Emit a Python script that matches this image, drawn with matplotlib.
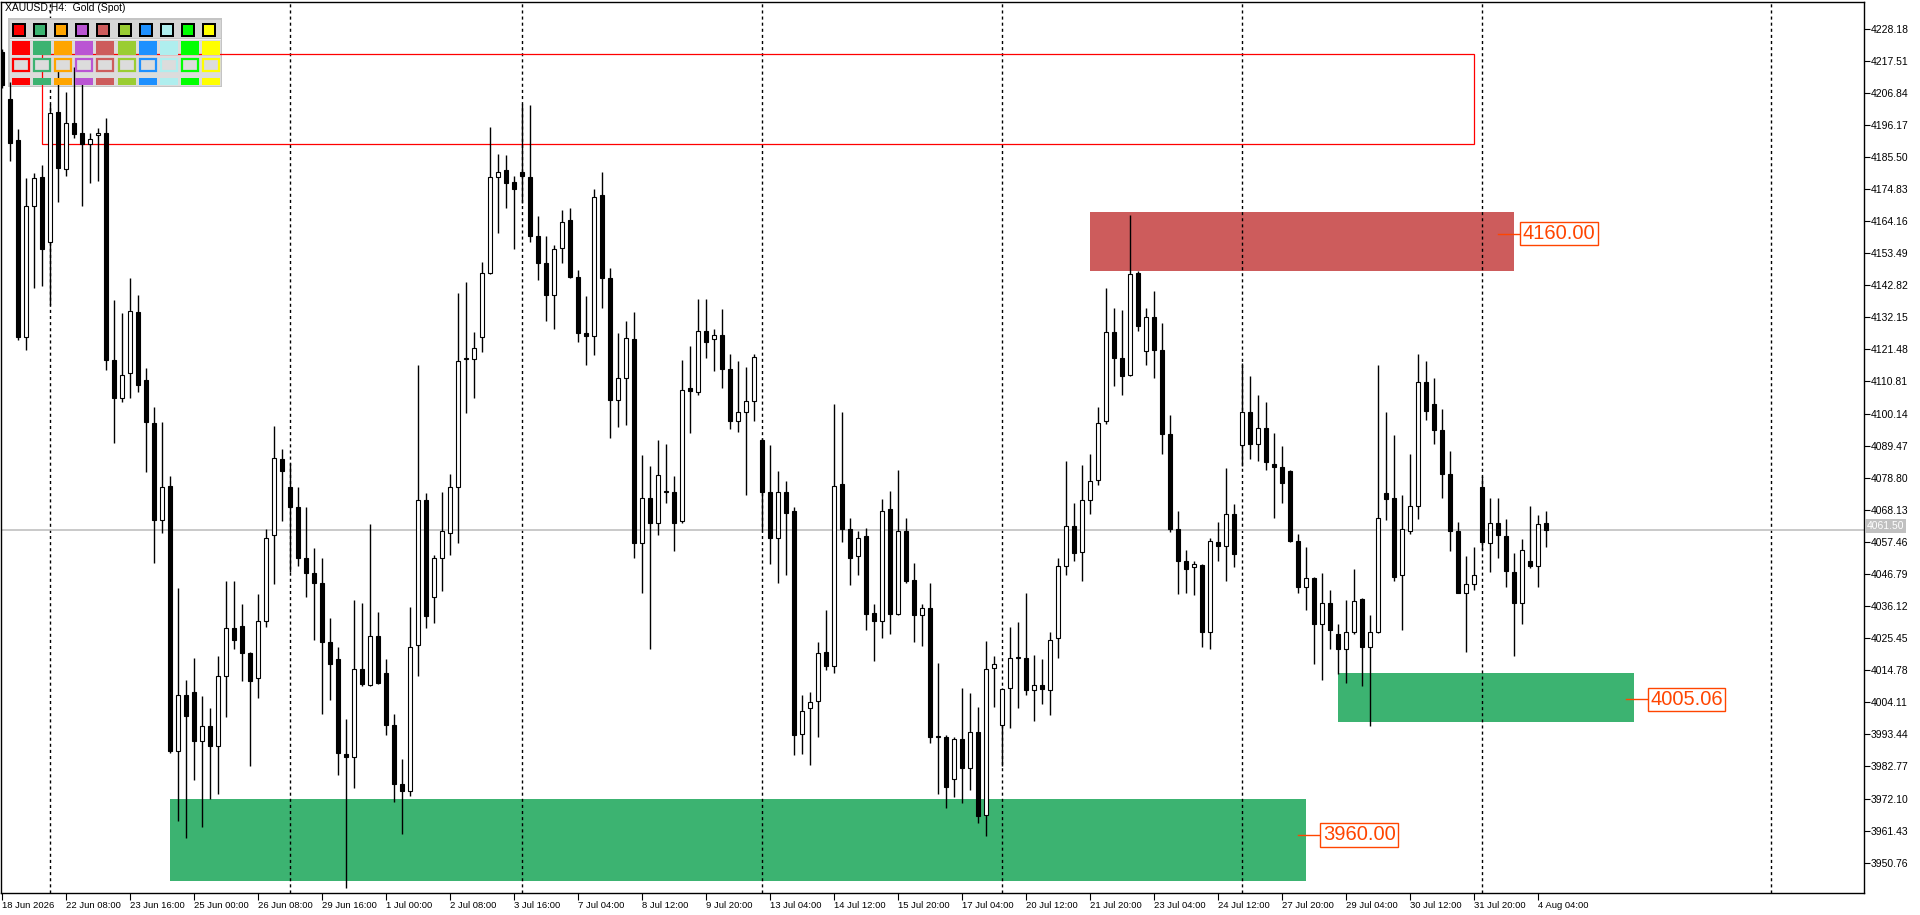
import numpy as np
import matplotlib
matplotlib.use('Agg')
from matplotlib import pyplot as plt
from matplotlib.patches import Rectangle
from matplotlib.transforms import Affine2D, blended_transform_factory

plt.rcParams['font.family'] = ['Liberation Sans', 'DejaVu Sans']

W, H = 1920, 915

# H4 candles, bar index 0 .. 193
opens = [4220.3, 4204.7, 4191.0, 4125.7, 4169.0, 4178.9, 4157.1, 4200.5, 4181.5, 4196.9,
         4193.4, 4189.9, 4192.8, 4193.4, 4118.0, 4105.3, 4113.6, 4133.8, 4111.2, 4097.1,
         4064.8, 4076.2, 3988.0, 4006.7, 4007.6, 3991.1, 3996.2, 3989.6, 4012.7, 4028.7,
         4029.6, 4020.4, 4012.2, 4031.1, 4059.8, 4085.0, 4075.8, 4069.0, 4052.1, 4047.0,
         4043.7, 4024.1, 4018.6, 3987.0, 3985.9, 4015.3, 4009.8, 4026.3, 4014.0, 3996.6,
         3976.8, 3974.6, 4023.2, 4071.4, 4039.3, 4052.0, 4060.4, 4075.8, 4118.2, 4118.2,
         4125.5, 4147.0, 4178.7, 4181.1, 4177.1, 4180.4, 4178.9, 4159.3, 4150.3, 4139.6,
         4155.2, 4164.6, 4145.5, 4127.0, 4125.9, 4172.7, 4145.1, 4104.8, 4111.8, 4125.0,
         4057.1, 4072.1, 4063.9, 4074.2, 4074.2, 4064.4, 4108.5, 4107.4, 4127.7, 4125.0,
         4126.2, 4114.9, 4097.5, 4100.8, 4104.2, 4091.4, 4074.0, 4058.6, 4074.0, 4067.7,
         3993.5, 4002.1, 4004.5, 4020.8, 4016.2, 4076.7, 4061.7, 4052.9, 4059.3, 4033.8,
         4031.1, 4068.5, 4033.6, 4061.1, 4044.8, 4033.3, 4035.5, 3992.5, 3992.5, 3978.6,
         3992.0, 3982.3, 3994.4, 3966.7, 4015.5, 3996.6, 4008.9, 4018.9, 4018.9, 4008.3,
         4009.9, 4008.3, 4025.4, 4049.4, 4062.6, 4054.2, 4071.4, 4078.2, 4097.8, 4127.2,
         4118.5, 4113.0, 4147.0, 4120.9, 4132.3, 4121.3, 4093.2, 4061.7, 4051.2, 4049.2,
         4049.8, 4027.4, 4057.5, 4056.2, 4066.8, 4089.7, 4100.8, 4090.1, 4095.2, 4083.5,
         4082.2, 4080.9, 4057.6, 4042.4, 4045.5, 4030.0, 4037.3, 4026.7, 4021.9, 4027.4,
         4038.6, 4022.6, 4027.4, 4073.6, 4072.1, 4046.5, 4061.1, 4069.4, 4110.7, 4103.3,
         4094.7, 4080.0, 4061.1, 4040.6, 4043.3, 4075.8, 4057.1, 4063.9, 4059.5, 4047.6,
         4037.3, 4051.2, 4049.4, 4063.9]
highs = [4221.5, 4210.3, 4194.7, 4178.5, 4180.0, 4182.7, 4203.0, 4216.0, 4207.1, 4215.3,
         4209.7, 4193.4, 4195.0, 4198.3, 4137.8, 4133.6, 4145.1, 4139.6, 4115.2, 4102.4,
         4097.3, 4079.5, 4042.1, 4011.6, 4018.9, 4006.1, 4002.1, 4019.5, 4044.3, 4044.6,
         4036.9, 4021.0, 4040.2, 4061.7, 4096.0, 4088.3, 4083.7, 4075.8, 4069.0, 4055.3,
         4052.0, 4032.0, 4022.6, 3998.4, 4038.2, 4037.3, 4063.5, 4034.2, 4018.6, 4000.2,
         3985.2, 4035.8, 4116.2, 4073.6, 4053.1, 4074.2, 4080.0, 4140.2, 4143.9, 4127.3,
         4150.6, 4195.4, 4186.4, 4186.0, 4179.3, 4203.1, 4202.7, 4166.0, 4159.3, 4156.1,
         4167.7, 4168.4, 4147.9, 4139.1, 4174.9, 4180.5, 4148.4, 4126.8, 4131.0, 4134.0,
         4086.4, 4082.8, 4091.4, 4090.1, 4079.5, 4118.0, 4122.6, 4138.2, 4138.2, 4128.3,
         4134.9, 4120.0, 4117.6, 4115.6, 4120.0, 4092.0, 4089.7, 4080.9, 4077.6, 4069.0,
         4006.7, 4007.6, 4024.1, 4034.7, 4103.3, 4100.8, 4065.4, 4061.1, 4062.1, 4036.9,
         4071.8, 4074.3, 4081.3, 4065.4, 4050.3, 4036.9, 4043.7, 4017.1, 3993.3, 3992.5,
         4009.0, 4007.2, 4002.4, 4024.5, 4019.5, 4009.0, 4029.0, 4030.9, 4040.6, 4019.9,
         4018.4, 4027.4, 4052.0, 4084.2, 4070.3, 4083.1, 4086.8, 4102.4, 4141.8, 4135.4,
         4134.5, 4166.2, 4147.5, 4135.1, 4140.9, 4130.1, 4099.7, 4067.6, 4054.9, 4051.0,
         4050.1, 4058.9, 4064.1, 4081.9, 4069.9, 4117.1, 4112.7, 4106.3, 4103.9, 4093.8,
         4089.2, 4081.5, 4060.2, 4055.6, 4045.7, 4047.0, 4041.5, 4030.0, 4038.2, 4048.3,
         4038.8, 4033.3, 4116.3, 4100.6, 4092.9, 4073.1, 4086.8, 4120.0, 4117.6, 4111.8,
         4101.5, 4087.7, 4064.1, 4052.9, 4055.6, 4079.5, 4072.1, 4072.1, 4065.0, 4053.8,
         4058.4, 4069.4, 4066.3, 4067.7]
lows = [4208.5, 4184.0, 4124.6, 4121.3, 4141.8, 4142.4, 4136.3, 4170.5, 4179.1, 4191.9,
        4169.3, 4176.7, 4177.6, 4114.5, 4090.5, 4103.9, 4105.2, 4107.2, 4080.6, 4050.3,
        4060.4, 3987.4, 3964.5, 3959.0, 3978.2, 3962.6, 3971.8, 3973.6, 3999.3, 4021.9,
        4011.2, 3982.8, 4005.7, 4029.2, 4043.3, 4064.4, 4047.6, 4049.4, 4039.3, 4025.0,
        4000.2, 4004.8, 3980.1, 3942.5, 3975.5, 4009.4, 4009.4, 4010.3, 3993.3, 3970.9,
        3960.3, 3973.1, 4012.7, 4028.7, 4030.5, 4041.1, 4053.1, 4057.1, 4100.2, 4105.3,
        4120.7, 4146.4, 4160.2, 4168.4, 4154.9, 4170.3, 4157.1, 4144.6, 4131.0, 4128.1,
        4150.1, 4145.1, 4124.0, 4116.3, 4119.5, 4135.4, 4092.0, 4095.6, 4096.2, 4052.0,
        4040.6, 4021.9, 4059.8, 4070.3, 4054.3, 4063.9, 4093.8, 4106.3, 4118.5, 4114.3,
        4108.5, 4095.1, 4094.1, 4073.2, 4097.5, 4061.1, 4050.1, 4043.7, 4046.5, 3986.5,
        3986.8, 3983.4, 3992.5, 4014.9, 4014.0, 4057.5, 4043.0, 4046.6, 4028.1, 4017.7,
        4025.6, 4026.8, 4033.3, 4043.9, 4024.1, 4022.8, 3990.5, 3973.6, 3969.1, 3972.7,
        3970.5, 3974.9, 3964.1, 3959.5, 4002.4, 3982.8, 3995.7, 4002.1, 4006.7, 3998.0,
        4003.5, 3999.9, 4018.9, 4046.5, 4051.0, 4044.3, 4066.6, 4076.4, 4096.5, 4109.4,
        4106.3, 4112.5, 4127.7, 4116.2, 4111.8, 4086.8, 4060.8, 4040.0, 4040.6, 4039.7,
        4022.6, 4021.7, 4051.2, 4044.6, 4049.2, 4082.8, 4085.0, 4084.2, 4081.5, 4065.4,
        4070.3, 4057.5, 4040.6, 4034.7, 4016.7, 4011.6, 4021.7, 4013.4, 4010.7, 4026.8,
        4009.4, 3996.2, 4027.3, 4064.8, 4044.3, 4028.3, 4060.2, 4065.0, 4098.0, 4090.1,
        4072.1, 4054.3, 4040.4, 4021.0, 4041.5, 4054.9, 4047.4, 4052.1, 4042.4, 4019.5,
        4030.0, 4048.8, 4042.4, 4055.8]
closes = [4209.5, 4190.1, 4125.5, 4169.0, 4178.5, 4155.0, 4200.2, 4181.8, 4196.9, 4193.2,
          4189.7, 4191.4, 4193.6, 4118.0, 4105.3, 4113.0, 4134.1, 4109.7, 4097.3, 4064.8,
          4075.8, 3987.8, 4006.7, 3999.7, 3991.4, 3996.2, 3989.6, 4012.7, 4028.7, 4025.0,
          4020.4, 4011.2, 4031.1, 4058.9, 4085.2, 4080.9, 4069.0, 4052.1, 4047.0, 4043.7,
          4024.1, 4016.7, 3987.4, 3985.9, 4015.3, 4010.3, 4026.3, 4010.7, 3996.6, 3976.8,
          3974.6, 4022.6, 4071.4, 4032.9, 4052.1, 4061.1, 4075.8, 4117.6, 4118.2, 4121.8,
          4147.0, 4178.9, 4180.5, 4176.7, 4174.9, 4179.3, 4159.1, 4150.3, 4139.6, 4155.0,
          4164.0, 4145.7, 4126.8, 4125.9, 4172.1, 4145.1, 4104.8, 4111.8, 4125.3, 4057.1,
          4072.1, 4063.9, 4079.8, 4074.2, 4063.9, 4108.1, 4107.5, 4127.7, 4124.0, 4126.2,
          4114.9, 4097.5, 4100.8, 4104.4, 4118.9, 4074.0, 4058.6, 4074.2, 4067.2, 3993.3,
          4001.2, 4004.3, 4020.4, 4016.2, 4076.0, 4061.7, 4052.0, 4058.6, 4033.6, 4031.1,
          4067.6, 4033.6, 4061.1, 4044.6, 4033.3, 4035.5, 3992.5, 3992.5, 3975.8, 3992.0,
          3982.3, 3994.4, 3966.3, 4015.3, 4016.7, 4008.5, 4018.9, 4018.9, 4008.3, 4009.9,
          4008.5, 4025.0, 4049.4, 4062.6, 4053.8, 4071.4, 4077.6, 4097.1, 4127.2, 4118.5,
          4112.5, 4146.6, 4129.2, 4132.3, 4121.3, 4093.2, 4061.7, 4051.2, 4048.3, 4050.1,
          4027.4, 4057.6, 4056.0, 4066.8, 4053.4, 4100.8, 4090.1, 4095.2, 4084.1, 4082.4,
          4076.9, 4057.6, 4042.4, 4045.5, 4030.0, 4037.3, 4028.3, 4021.9, 4027.4, 4037.8,
          4022.6, 4027.4, 4065.4, 4071.8, 4045.7, 4061.7, 4069.4, 4110.7, 4101.1, 4094.7,
          4080.0, 4061.1, 4040.6, 4043.3, 4046.5, 4057.5, 4063.9, 4059.8, 4047.9, 4037.3,
          4054.7, 4049.4, 4063.5, 4061.5]

# time axis labels every 8 bars
time_labels = ["18 Jun 2026", "22 Jun 08:00", "23 Jun 16:00", "25 Jun 00:00", "26 Jun 08:00",
               "29 Jun 16:00", "1 Jul 00:00", "2 Jul 08:00", "3 Jul 16:00", "7 Jul 04:00",
               "8 Jul 12:00", "9 Jul 20:00", "13 Jul 04:00", "14 Jul 12:00", "15 Jul 20:00",
               "17 Jul 04:00", "20 Jul 12:00", "21 Jul 20:00", "23 Jul 04:00", "24 Jul 12:00",
               "27 Jul 20:00", "29 Jul 04:00", "30 Jul 12:00", "31 Jul 20:00", "4 Aug 04:00"]
time_label_bars = [0, 8, 16, 24, 32, 40, 48, 56, 64, 72, 80, 88, 96, 104, 112, 120,
                   128, 136, 144, 152, 160, 168, 176, 184, 192]

price_ticks = ["3950.76", "3961.43", "3972.10", "3982.77", "3993.44", "4004.11", "4014.78",
               "4025.45", "4036.12", "4046.79", "4057.46", "4068.13", "4078.80", "4089.47",
               "4100.14", "4110.81", "4121.48", "4132.15", "4142.82", "4153.49", "4164.16",
               "4174.83", "4185.50", "4196.17", "4206.84", "4217.51", "4228.18"]

# week separators (bar index)
separator_bars = [6, 36, 65, 95, 125, 155, 185, 221.1]

# zones: left bar, right bar, low price, high price
zone_left = [21, 136, 167]
zone_right = [163, 189, 204]
zone_low = [3944.8, 4147.5, 3997.5]
zone_high = [3971.8, 4167.1, 4013.8]
zone_colors = ['#3CB371', '#CD5C5C', '#3CB371']
zone_texts = ['3960.00', '4160.00', '4005.06']
zone_levels = [3960.00, 4160.00, 4005.06]
zone_label_bar = [164.8, 189.8, 205.75]

# outlined rectangle
box_left, box_right = 5, 184
box_low, box_high = 4189.7, 4219.8

last_price = 4061.50

palette = ['#FF0000', '#3CB371', '#FFA500', '#BA55D3', '#CD5C5C',
           '#9ACD32', '#1E90FF', '#AFEEEE', '#00FF00', '#FFFF00']

fig = plt.figure(figsize=(W / 100, H / 100), dpi=100)
ax = fig.add_axes([1 / W, (H - 893) / H, 1863 / W, 891 / H])
ax.set_xlim(-0.125, 232.75)
ax.set_ylim(3940.7, 4237.0)

x = np.arange(len(opens))
o = np.array(opens); c = np.array(closes)
hi = np.array(highs); lo = np.array(lows)

# zones
for l, r, zl, zh, col in zip(zone_left, zone_right, zone_low, zone_high, zone_colors):
    ax.add_patch(Rectangle((l, zl), r - l, zh - zl, facecolor=col, edgecolor='none', zorder=1.0))
ax.add_patch(Rectangle((box_left, box_low), box_right - box_left, box_high - box_low,
                       facecolor='none', edgecolor='#FF0000', lw=0.9, zorder=1.5))

for xb in separator_bars:
    ax.axvline(xb, color='black', lw=1.0, dashes=(2.2, 2.2), zorder=1.1)

ax.axhline(last_price, color='#C0C0C0', lw=1.2, zorder=1.6)

# candles
ax.vlines(x, lo, hi, color='black', lw=1.0, zorder=3)
bull = c >= o
body_low = np.minimum(o, c)
body_h = np.maximum(np.abs(c - o), 0.25)
ax.bar(x[bull], body_h[bull], bottom=body_low[bull], width=0.58,
       color='white', edgecolor='black', linewidth=0.8, zorder=3.2)
ax.bar(x[~bull], body_h[~bull], bottom=body_low[~bull], width=0.58,
       color='black', edgecolor='black', linewidth=0.8, zorder=3.2)

# zone labels
for lx, lv, txt in zip(zone_label_bar, zone_levels, zone_texts):
    ax.plot([lx - 2.8, lx], [lv, lv], color='#FF4500', lw=1.0, zorder=4)
    ax.text(lx + 0.3, lv, txt, ha='left', va='center', fontsize=14.5, color='#FF4500',
            zorder=4.5, bbox=dict(boxstyle='square,pad=0.12', fc='white', ec='#FF4500', lw=1.0))

# axes styling
for sp in ax.spines.values():
    sp.set_color('black')
    sp.set_linewidth(1.0)
ax.yaxis.tick_right()
ax.set_yticks([float(t) for t in price_ticks])
ax.set_yticklabels(price_ticks)
ax.set_xticks(time_label_bars)
ax.set_xticklabels(time_labels)
for lab in ax.get_xticklabels():
    lab.set_ha('left')
ax.tick_params(axis='y', direction='out', length=4, width=0.8, pad=1, labelsize=7.5)
ax.tick_params(axis='x', direction='out', length=5, width=0.8, pad=1, labelsize=6.8)

# last price tag on the scale
tr = blended_transform_factory(ax.transAxes, ax.transData)
ax.text(1.0015, last_price + 1.3, '%.2f' % last_price, transform=tr, ha='left', va='center',
        fontsize=7.5, color='white', zorder=6, clip_on=False,
        bbox=dict(boxstyle='square,pad=0.2', fc='#C0C0C0', ec='none'))

# symbol caption
fig.text(5 / W, 1 - 3 / H, 'XAUUSD,H4:  Gold (Spot)', ha='left', va='top', fontsize=7.5)

# colour panel (pixel coordinates from the top-left corner)
pix = Affine2D().scale(1 / W, -1 / H).translate(0, 1) + fig.transFigure


def prect(x0, y0, w, h, fc, ec='none', lw=0, z=5):
    ax.add_patch(Rectangle((x0, y0), w, h, transform=pix, facecolor=fc, edgecolor=ec,
                           lw=lw, zorder=z, clip_on=False))


prect(8, 18, 214, 69, '#C4C4C4', z=1.3)
prect(10, 20, 211, 18, '#D6D6D6', z=1.31)
prect(10, 39, 211, 1, '#F0F0F0', z=1.31)
prect(10, 40, 211, 46, '#DCDCDC', z=1.31)
for k, col in enumerate(palette):
    px = 12 + 21.1 * k
    prect(px, 23, 14, 14, 'black')
    prect(px + 2, 25, 10, 10, col, z=5.1)
    prect(px, 41, 18, 13.5, col)
    prect(px + 1, 59, 16, 12, '#DCDCDC', ec=col, lw=1.6)
    prect(px, 77.5, 18, 7.5, col)

fig.savefig('out.png', dpi=100)
